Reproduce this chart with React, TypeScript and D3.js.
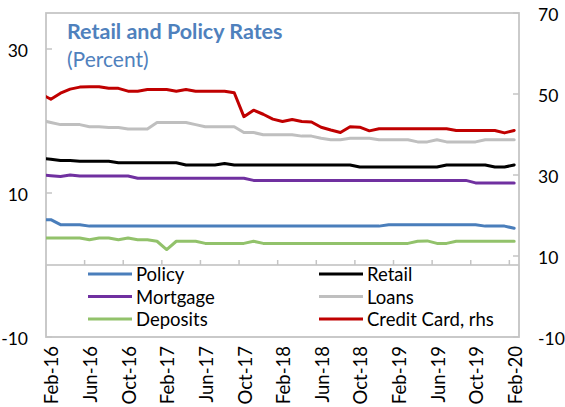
import * as d3 from 'd3';

const W = 565;
const H = 407;
const plot = { left: 46, right: 519, top: 13, bottom: 337 };

// Jan-16 .. Feb-20 (Jan-16 is only visible as the stub clipped at the left edge)
const months = d3.timeMonth.range(new Date(2016, 0, 1), new Date(2020, 2, 1));
const fmtMonth = d3.timeFormat('%b-%y');
const tickLabels = ['Feb-16', 'Jun-16', 'Oct-16', 'Feb-17', 'Jun-17', 'Oct-17', 'Feb-18', 'Jun-18', 'Oct-18', 'Feb-19', 'Jun-19', 'Oct-19', 'Feb-20'];
const leftTicks = [-10, 10, 30];
const rightTicks = [-10, 10, 30, 50, 70];

const policy = [
  6.3, 6.3, 5.6, 5.6, 5.6, 5.4, 5.4, 5.4, 5.4, 5.4,
  5.4, 5.4, 5.4, 5.4, 5.4, 5.4, 5.4, 5.4, 5.4, 5.4,
  5.4, 5.4, 5.4, 5.4, 5.4, 5.4, 5.4, 5.4, 5.4, 5.4,
  5.4, 5.4, 5.4, 5.4, 5.4, 5.4, 5.6, 5.6, 5.6, 5.6,
  5.6, 5.6, 5.6, 5.6, 5.6, 5.6, 5.4, 5.4, 5.4, 5.1,
];
const retail = [
  14.8, 14.7, 14.5, 14.5, 14.4, 14.4, 14.4, 14.4, 14.2, 14.2,
  14.2, 14.2, 14.2, 14.2, 14.2, 13.9, 13.9, 13.9, 13.9, 14.1,
  13.9, 13.9, 13.9, 13.9, 13.9, 13.9, 13.9, 13.9, 13.9, 13.9,
  13.9, 13.9, 13.9, 13.6, 13.6, 13.6, 13.6, 13.6, 13.6, 13.6,
  13.6, 13.6, 13.9, 13.9, 13.9, 13.9, 13.9, 13.6, 13.6, 13.9,
];
const mortgage = [
  12.5, 12.4, 12.3, 12.5, 12.35, 12.35, 12.35, 12.35, 12.35, 12.35,
  12.05, 12.05, 12.05, 12.05, 12.05, 12.05, 12.05, 12.05, 12.05, 12.05,
  12.05, 12.05, 11.75, 11.75, 11.75, 11.75, 11.75, 11.75, 11.75, 11.75,
  11.75, 11.75, 11.75, 11.75, 11.75, 11.75, 11.75, 11.75, 11.75, 11.75,
  11.75, 11.75, 11.75, 11.75, 11.75, 11.4, 11.4, 11.4, 11.4, 11.4,
];
const loans = [
  20.1, 19.8, 19.5, 19.5, 19.5, 19.2, 19.2, 19.1, 19.1, 18.9,
  18.9, 18.9, 19.8, 19.8, 19.8, 19.8, 19.5, 19.2, 19.2, 19.2,
  19.2, 18.4, 18.4, 18.1, 18.1, 18.1, 18.1, 17.9, 17.9, 17.6,
  17.4, 17.4, 17.6, 17.6, 17.6, 17.4, 17.4, 17.4, 17.4, 17.1,
  17.1, 17.4, 17.1, 17.1, 17.1, 17.1, 17.4, 17.4, 17.4, 17.4,
];
const deposits = [
  3.75, 3.75, 3.75, 3.75, 3.75, 3.5, 3.75, 3.75, 3.5, 3.75,
  3.5, 3.5, 3.3, 2.15, 3.3, 3.3, 3.3, 3.0, 3.0, 3.0,
  3.0, 3.0, 3.3, 3.0, 3.0, 3.0, 3.0, 3.0, 3.0, 3.0,
  3.0, 3.0, 3.0, 3.0, 3.0, 3.0, 3.0, 3.0, 3.0, 3.3,
  3.35, 3.0, 3.0, 3.3, 3.3, 3.3, 3.3, 3.3, 3.3, 3.3,
];
// right-hand scale
const creditCard = [
  50.0, 48.7, 50.2, 51.2, 51.7, 51.8, 51.8, 51.4, 51.4, 50.7,
  50.7, 51.1, 51.1, 51.1, 50.7, 51.1, 50.7, 50.7, 50.7, 50.7,
  50.3, 44.4, 46.0, 45.0, 43.8, 43.2, 43.7, 43.2, 43.1, 41.8,
  41.1, 40.5, 41.9, 41.8, 40.9, 41.4, 41.4, 41.4, 41.4, 41.4,
  41.4, 41.4, 41.4, 41.0, 41.0, 41.0, 41.0, 41.0, 40.4, 41.0,
];

const series = [
  { name: 'Policy', values: policy, color: '#4a7ebb', axis: 'left' },
  { name: 'Retail', values: retail, color: '#000000', axis: 'left' },
  { name: 'Mortgage', values: mortgage, color: '#7030a0', axis: 'left' },
  { name: 'Loans', values: loans, color: '#bfbfbf', axis: 'left' },
  { name: 'Deposits', values: deposits, color: '#92c26b', axis: 'left' },
  { name: 'Credit Card, rhs', values: creditCard, color: '#c00000', axis: 'right' },
];

const FONT = 'Lato, "Noto Sans", sans-serif';
const axisGray = '#c4c4c4';

export default function App() {
  // index 0 = Jan-16, bands centred on each month, Feb-16 is the first band
  const x = d3.scaleLinear().domain([0.5, 49.5]).range([plot.left, plot.right]);
  const yL = d3.scaleLinear().domain([-10, 35]).range([plot.bottom, plot.top]);
  const yR = d3.scaleLinear().domain([-10, 70]).range([plot.bottom, plot.top]);

  const monthLabels = months.map(fmtMonth);
  const labelIdx = tickLabels.map((l) => monthLabels.indexOf(l));
  const tickBounds = d3.range(1, 13).map((k) => x(1 + 4 * k - 0.5));

  const legendY = [274, 296.5, 319];

  return (
    <svg width={W} height={H} style={{ position: 'absolute', left: 0, top: 0, background: '#fff' }} fontFamily={FONT}>
      <defs>
        <clipPath id="plotClip">
          <rect x={plot.left} y={plot.top} width={plot.right - plot.left} height={plot.bottom - plot.top} />
        </clipPath>
      </defs>

      {/* legend box sits below the zero line */}
      <rect x={plot.left} y={yL(0)} width={plot.right - plot.left} height={plot.bottom - yL(0)} fill="#fff" stroke="#d9d9d9" />

      {/* zero line with ticks */}
      <line x1={plot.left} x2={plot.right} y1={yL(0)} y2={yL(0)} stroke={axisGray} strokeWidth={1.5} />
      {tickBounds.map((b, i) => (
        <line key={i} x1={b} x2={b} y1={yL(0)} y2={yL(0) - 5} stroke={axisGray} strokeWidth={1.5} />
      ))}

      {/* plot frame */}
      <rect x={plot.left} y={plot.top} width={plot.right - plot.left} height={plot.bottom - plot.top} fill="none" stroke={axisGray} strokeWidth={1.75} />
      {leftTicks.map((t) => (
        <line key={t} x1={plot.left} x2={plot.left + 6} y1={yL(t)} y2={yL(t)} stroke={axisGray} strokeWidth={1.5} />
      ))}
      {rightTicks.map((t) => (
        <line key={t} x1={plot.right - 6} x2={plot.right} y1={yR(t)} y2={yR(t)} stroke={axisGray} strokeWidth={1.5} />
      ))}

      {/* series */}
      <g clipPath="url(#plotClip)">
        {series.map((s) => {
          const y = s.axis === 'left' ? yL : yR;
          const line = d3.line<number>().x((_, i) => x(i)).y((d) => y(d));
          return (
            <path key={s.name} d={line(s.values) ?? ''} fill="none" stroke={s.color} strokeWidth={3} strokeLinejoin="round" strokeLinecap="round" />
          );
        })}
      </g>

      {/* axis labels */}
      {leftTicks.map((t) => (
        <text key={t} x={28} y={yL(t) + 1} textAnchor="end" dominantBaseline="central" fontSize={17.5} fill="#000">{t}</text>
      ))}
      {rightTicks.map((t) => (
        <text key={t} x={538} y={yR(t) + 1} textAnchor="start" dominantBaseline="central" fontSize={17.5} fill="#000">{t}</text>
      ))}
      {labelIdx.map((idx, i) => (
        <text key={i} transform={`translate(${x(idx) + 1},346) rotate(-90)`} textAnchor="end" dy="0.36em" fontSize={18.5} fill="#000">
          {tickLabels[i]}
        </text>
      ))}

      {/* title */}
      <text x={67} y={39} fontSize={21.5} fontWeight="bold" fill="#4f81bd">Retail and Policy Rates</text>
      <text x={67} y={67} fontSize={21} fill="#4f81bd">(Percent)</text>

      {/* legend */}
      {series.map((s, i) => {
        const col = i % 2;
        const ly = legendY[Math.floor(i / 2)];
        const lx = col === 0 ? 88 : 319;
        return (
          <g key={s.name}>
            <line x1={lx} x2={lx + 44} y1={ly} y2={ly} stroke={s.color} strokeWidth={3} />
            <text x={lx + 48} y={ly} dominantBaseline="central" fontSize={18.5} fill="#000">{s.name}</text>
          </g>
        );
      })}
    </svg>
  );
}
